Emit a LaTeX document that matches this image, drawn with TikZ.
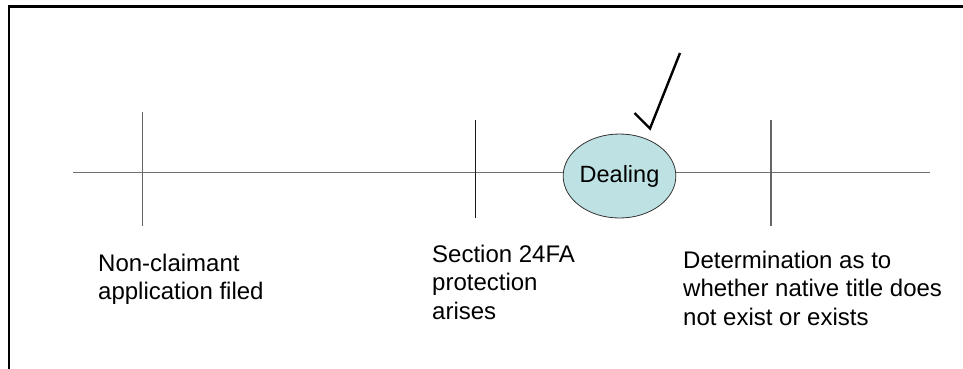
\documentclass[tikz,border=0pt]{standalone}
\usepackage{fontspec}
\setmainfont{Liberation Sans}
\usetikzlibrary{shapes.geometric}
\definecolor{dealfill}{RGB}{190,226,228}
\definecolor{axisgray}{RGB}{112,112,112}
\tikzset{
  axis/.style={draw=axisgray, line width=1.5pt},
  marker/.style={draw=#1, line width=1.3pt},
  label/.style={anchor=base west, inner sep=0pt,
    font=\fontsize{24}{28.5}\selectfont},
  event/.style={ellipse, draw=black!80, line width=0.8pt, fill=dealfill,
    minimum width=107pt, minimum height=84pt, inner sep=0pt,
    font=\fontsize{23.5}{28.5}\selectfont},
  tick mark/.style={draw=black, line width=2.4pt, line join=miter}
}
\begin{document}
\begin{tikzpicture}[x=1pt,y=-1pt]
  \useasboundingbox (0,0) rectangle (963,368);
  % frame (only top and left edges fall inside the page)
  \draw[line width=2.5pt] (9,380) -- (9,6.5) -- (980,6.5);

  % time axis
  \coordinate (start) at (73,172.5);
  \coordinate (finish) at (930,172.5);
  \draw[axis] (start) -- (finish);

  % event markers
  \coordinate (m1top) at (142.5,112);  \coordinate (m1bot) at (142.5,226);
  \coordinate (m2top) at (475.5,120);  \coordinate (m2bot) at (475.5,218);
  \coordinate (m3top) at (771,120);    \coordinate (m3bot) at (771,226);
  \draw[marker=black!60] (m1top) -- (m1bot);
  \draw[marker=black!90] (m2top) -- (m2bot);
  \draw[marker=black!60] (m3top) -- (m3bot);

  % the dealing
  \node[event] (dealing) at (619.5,176) {Dealing};

  % tick above the dealing
  \coordinate (ck1) at (634.5,113);
  \coordinate (ck2) at (650,128.5);
  \coordinate (ck3) at (680,53);
  \draw[tick mark] (ck1) -- (ck2) -- (ck3);

  % captions
  \node[label] (lab1) at (98,271)
    {\begin{tabular}[t]{@{}l@{}}Non-claimant\\application filed\end{tabular}};
  \node[label] (lab2) at (432,262)
    {\begin{tabular}[t]{@{}l@{}}Section 24FA\\protection\\arises\end{tabular}};
  \node[label] (lab3) at (683,268)
    {\begin{tabular}[t]{@{}l@{}}Determination as to\\whether native title does\\not exist or exists\end{tabular}};
\end{tikzpicture}
\end{document}
